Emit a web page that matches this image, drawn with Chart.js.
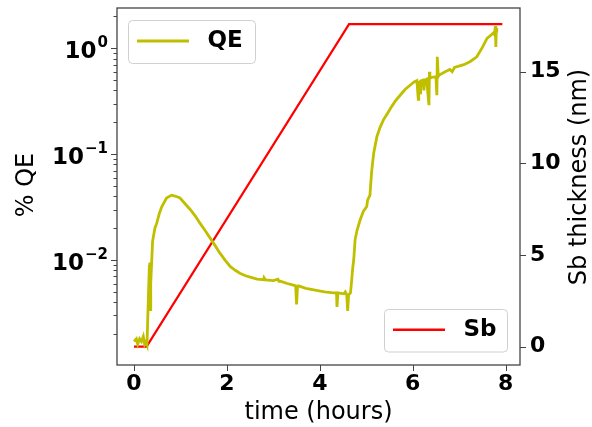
<!DOCTYPE html>
<html>
<head>
<meta charset="utf-8">
<script src="https://cdn.jsdelivr.net/npm/chart.js@4.4.0/dist/chart.umd.min.js"></script>
<style>
  body { margin: 0; background: #fff; }
  #wrap { width: 592px; height: 427px; }
</style>
</head>
<body>
<div id="wrap"><canvas id="myChart" width="592" height="427"></canvas></div>
<script>
// QE (%) vs time (hours)
const qeTime = [
  0.00, 0.05, 0.08, 0.12, 0.16, 0.20, 0.23, 0.26, 0.28, 0.31, 0.33, 0.34, 0.35, 0.36, 0.40,
  0.45, 0.49, 0.55, 0.60, 0.70, 0.81, 0.90, 0.99, 1.10, 1.21, 1.32, 1.42, 1.53, 1.64, 1.75,
  1.85, 1.96, 2.07, 2.18, 2.28, 2.40, 2.50, 2.65, 2.79, 2.80, 2.83, 3.00, 3.10, 3.12, 3.15,
  3.30, 3.43, 3.48, 3.50, 3.52, 3.54, 3.70, 3.90, 4.10, 4.30, 4.36, 4.37, 4.39, 4.52, 4.55,
  4.58, 4.60, 4.62, 4.66, 4.68, 4.71, 4.73, 4.76, 4.80, 4.87, 4.94, 5.01, 5.03, 5.05, 5.08,
  5.10, 5.12, 5.16, 5.23, 5.30, 5.37, 5.45, 5.52, 5.62, 5.73, 5.84, 5.95, 6.03, 6.09, 6.12,
  6.13, 6.16, 6.17, 6.22, 6.24, 6.26, 6.30, 6.35, 6.36, 6.37, 6.40, 6.50, 6.52, 6.53, 6.55,
  6.57, 6.70, 6.80, 6.85, 6.90, 7.10, 7.24, 7.38, 7.50, 7.60, 7.70, 7.74, 7.76, 7.78, 7.79,
  7.80, 7.81
];
const qeValues = [
  0.0017, 0.0018, 0.0016, 0.0018, 0.0017, 0.0019, 0.0016, 0.0017, 0.0016, 0.0045, 0.0087, 0.0095, 0.0034, 0.0060, 0.0150,
  0.0200, 0.0223, 0.028, 0.032, 0.0385, 0.041, 0.040, 0.0385, 0.034, 0.030, 0.026, 0.0223, 0.019, 0.0161, 0.0136,
  0.0116, 0.0100, 0.0087, 0.0080, 0.0075, 0.0071, 0.0069, 0.0066, 0.0065, 0.0068, 0.0065, 0.0064, 0.0066, 0.0063, 0.0063,
  0.0060, 0.0058, 0.0057, 0.0038, 0.0056, 0.0057, 0.0054, 0.0052, 0.0050, 0.0049, 0.0049, 0.0036, 0.0049, 0.0048, 0.0050,
  0.0047, 0.0033, 0.0047, 0.0049, 0.0060, 0.0085, 0.0100, 0.0156, 0.0190, 0.0240, 0.029, 0.032, 0.037, 0.0385, 0.041,
  0.055, 0.071, 0.102, 0.147, 0.180, 0.211, 0.240, 0.270, 0.315, 0.36, 0.41, 0.45, 0.48, 0.495, 0.33,
  0.49, 0.38, 0.49, 0.50, 0.40, 0.50, 0.51, 0.29, 0.60, 0.52, 0.53, 0.54, 0.36, 0.83, 0.54,
  0.56, 0.60, 0.63, 0.60, 0.66, 0.70, 0.75, 0.83, 1.02, 1.24, 1.35, 1.40, 1.35, 1.62, 1.03,
  1.55, 1.40
];

// Sb thickness (nm) vs time (hours)
const sbTime = [0, 0.27, 4.63, 7.93];
const sbValues = [0, 0, 17.6, 17.6];

// axis ticks
const timeTicks = [0, 2, 4, 6, 8];
const qeMajorTicks = [0.01, 0.1, 1];
const sbTicks = [0, 5, 10, 15];

Chart.defaults.font.family = "'DejaVu Sans', sans-serif";
Chart.defaults.color = "#000";

const qeMin = 0.00102, qeMax = 2.4;

// log minor ticks 2..9 per decade
function logTicks() {
  const out = [];
  for (let e = -3; e <= 0; e++) {
    for (let m = 1; m <= 9; m++) {
      const v = m * Math.pow(10, e);
      if (v >= qeMin && v <= qeMax) {
        out.push({ value: v, major: qeMajorTicks.some((t) => Math.abs(t - v) < 1e-9) });
      }
    }
  }
  return out;
}

// no extra label padding, the box sizes are fixed
function fixPadding(s) {
  s.paddingTop = 0;
  s.paddingBottom = 0;
  s.paddingLeft = 0;
  s.paddingRight = 0;
}

function drawLegend(ctx, x, y, w, h, color, width, label) {
  ctx.save();
  ctx.beginPath();
  ctx.roundRect(x, y, w, h, 4);
  ctx.fillStyle = "rgba(255,255,255,0.8)";
  ctx.fill();
  ctx.strokeStyle = "#d0d0d0";
  ctx.lineWidth = 1;
  ctx.stroke();
  const mid = y + h / 2 - 1;
  ctx.beginPath();
  ctx.moveTo(x + 8.5, mid);
  ctx.lineTo(x + 60.5, mid);
  ctx.strokeStyle = color;
  ctx.lineWidth = width;
  ctx.stroke();
  ctx.fillStyle = "#000";
  ctx.font = "bold 23px 'DejaVu Sans'";
  ctx.textBaseline = "middle";
  ctx.textAlign = "left";
  ctx.fillText(label, x + 79, mid);
  ctx.restore();
}

const framePlugin = {
  id: "frame",
  afterDraw(chart) {
    const { ctx, chartArea: a, scales } = chart;
    ctx.save();
    ctx.strokeStyle = "#444";
    ctx.lineWidth = 1.3;
    ctx.strokeRect(a.left, a.top, a.right - a.left, a.bottom - a.top);

    // tick marks
    ctx.beginPath();
    scales.x.ticks.forEach((t) => {
      const px = Math.round(scales.x.getPixelForValue(t.value)) + 0.5;
      ctx.moveTo(px, a.bottom);
      ctx.lineTo(px, a.bottom + 6);
    });
    scales.y.ticks.forEach((t) => {
      const py = Math.round(scales.y.getPixelForValue(t.value)) + 0.5;
      ctx.moveTo(a.left, py);
      ctx.lineTo(a.left - (t.major ? 6 : 3.5), py);
    });
    scales.y2.ticks.forEach((t) => {
      const py = Math.round(scales.y2.getPixelForValue(t.value)) + 0.5;
      ctx.moveTo(a.right, py);
      ctx.lineTo(a.right + 6, py);
    });
    ctx.lineWidth = 1;
    ctx.stroke();

    // log axis labels like 10^-1
    ctx.fillStyle = "#000";
    ctx.textAlign = "right";
    ctx.textBaseline = "alphabetic";
    qeMajorTicks.forEach((v) => {
      const py = scales.y.getPixelForValue(v);
      const e = Math.round(Math.log10(v));
      const exp = (e < 0 ? "\u2212" : "") + Math.abs(e);
      ctx.font = "bold 15px 'DejaVu Sans'";
      const ew = ctx.measureText(exp).width;
      ctx.fillText(exp, a.left - 9, py - 1.5);
      ctx.font = "bold 23px 'DejaVu Sans'";
      ctx.fillText("10", a.left - 9 - ew - 1, py + 10);
    });

    // axis titles on the sides
    ctx.font = "24px 'DejaVu Sans'";
    ctx.textAlign = "center";
    ctx.save();
    ctx.translate(33, 185);
    ctx.rotate(-Math.PI / 2);
    ctx.fillText("% QE", 0, 0);
    ctx.restore();
    ctx.save();
    ctx.translate(586, 177);
    ctx.rotate(-Math.PI / 2);
    ctx.fillText("Sb thickness (nm)", 0, 0);
    ctx.restore();

    // legends
    drawLegend(ctx, a.left + 11.5, a.top + 12.5, 127, 43, "#bfbf00", 3, "QE");
    drawLegend(ctx, a.right - 135.5, a.bottom - 55.5, 123, 42.5, "#ff0000", 2.5, "Sb");
    ctx.restore();
  },
};

const ctx = document.getElementById("myChart").getContext("2d");
const myChart = new Chart(ctx, {
  type: "line",
  data: {
    datasets: [
      {
        label: "QE",
        data: qeTime.map((t, i) => ({ x: t, y: qeValues[i] })),
        yAxisID: "y",
        borderColor: "#bfbf00",
        borderWidth: 2.8,
        pointRadius: 0,
        tension: 0,
      },
      {
        label: "Sb",
        data: sbTime.map((t, i) => ({ x: t, y: sbValues[i] })),
        yAxisID: "y2",
        borderColor: "#ff0000",
        borderWidth: 2.2,
        pointRadius: 0,
        tension: 0,
      },
    ],
  },
  options: {
    responsive: false,
    animation: false,
    layout: { padding: { top: 8, left: 0, right: 0, bottom: 0 } },
    plugins: { legend: { display: false }, tooltip: { enabled: false } },
    scales: {
      x: {
        type: "linear",
        position: "bottom",
        min: -0.366,
        max: 8.31,
        afterBuildTicks: (s) => { s.ticks = timeTicks.map((v) => ({ value: v })); },
        afterFit: (s) => { s.height = 62; fixPadding(s); },
        grid: { display: false, drawTicks: false },
        border: { display: false },
        ticks: { font: { size: 22, weight: "bold" }, padding: 6, maxRotation: 0 },
        title: { display: true, text: "time (hours)", font: { size: 24 }, padding: { top: 0, bottom: 0 } },
      },
      y: {
        type: "logarithmic",
        position: "left",
        min: qeMin,
        max: qeMax,
        afterBuildTicks: (s) => { s.ticks = logTicks(); },
        afterFit: (s) => { s.width = 117; fixPadding(s); },
        grid: { display: false, drawTicks: false },
        border: { display: false },
        ticks: { display: false },
      },
      y2: {
        type: "linear",
        position: "right",
        min: -1.0,
        max: 18.48,
        afterBuildTicks: (s) => { s.ticks = sbTicks.map((v) => ({ value: v })); },
        afterFit: (s) => { s.width = 72; fixPadding(s); },
        grid: { display: false, drawTicks: false },
        border: { display: false },
        ticks: { font: { size: 22, weight: "bold" }, padding: 10 },
      },
    },
  },
  plugins: [framePlugin],
});
</script>
</body>
</html>
